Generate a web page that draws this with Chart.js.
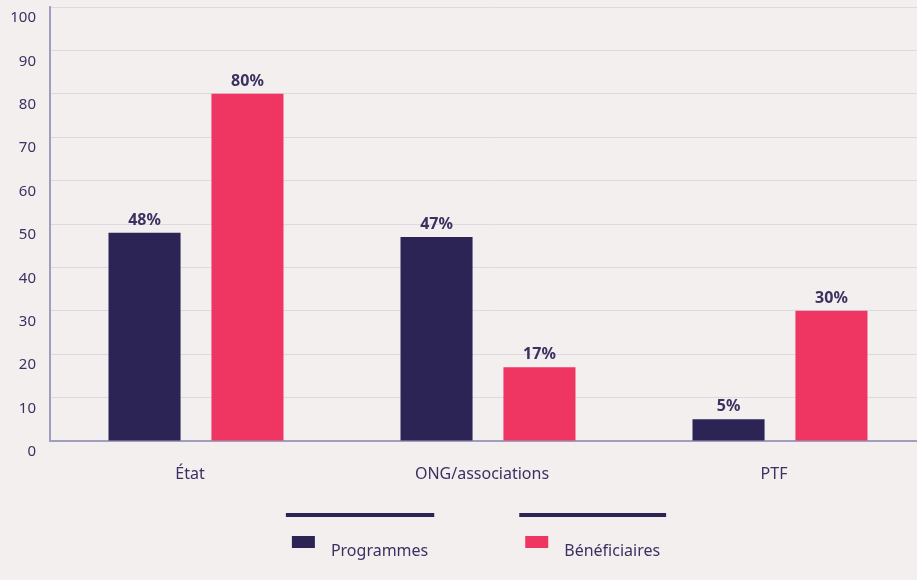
<!DOCTYPE html>
<html lang="fr">
<head>
<meta charset="utf-8">
<script src="https://cdn.jsdelivr.net/npm/chart.js@4"></script>
<style>
  html, body { margin: 0; padding: 0; background: #f3efef; overflow: hidden; }
  #chart { display: block; }
</style>
</head>
<body>
<canvas id="chart" width="926" height="580"></canvas>
<script>
var categories = ['État', 'ONG/associations', 'PTF']
var programmes = [48, 47, 5]
var beneficiaires = [80, 17, 30]
var yTicks = [0, 10, 20, 30, 40, 50, 60, 70, 80, 90, 100]

var textColor = '#3a3161'
var fontFamily = '"Noto Sans", "Open Sans", sans-serif'

// value labels above every bar
var barLabels = {
  id: 'barLabels',
  afterDatasetsDraw: function (chart) {
    var ctx = chart.ctx
    ctx.save()
    ctx.font = 'bold 16px ' + fontFamily
    ctx.fillStyle = textColor
    ctx.textAlign = 'center'
    ctx.textBaseline = 'alphabetic'
    chart.data.datasets.forEach(function (ds, i) {
      chart.getDatasetMeta(i).data.forEach(function (bar, j) {
        ctx.fillText(ds.data[j] + '%', bar.x, bar.y - 8)
      })
    })
    ctx.restore()
  }
}

// legend at the bottom: a rule above each swatch + label
var bottomLegend = {
  id: 'bottomLegend',
  afterDraw: function (chart) {
    var ctx = chart.ctx
    var sets = chart.data.datasets
    ctx.save()
    ctx.font = '16px ' + fontFamily
    var boxW = 23, boxH = 12, textGap = 16, padL = 6, padR = 6, itemGap = 85
    var widths = sets.map(function (ds) {
      return padL + boxW + textGap + ctx.measureText(ds.label).width + padR
    })
    var total = widths.reduce(function (a, b) { return a + b }, 0) + itemGap * (sets.length - 1)
    var x = 476 - total / 2
    sets.forEach(function (ds, i) {
      ctx.fillStyle = '#2d2456'
      ctx.fillRect(x, 513, widths[i], 4)
      ctx.fillStyle = ds.backgroundColor
      ctx.fillRect(x + padL, 536, boxW, boxH)
      ctx.fillStyle = textColor
      ctx.textAlign = 'left'
      ctx.textBaseline = 'middle'
      ctx.fillText(ds.label, x + padL + boxW + textGap, 551)
      x += widths[i] + itemGap
    })
    ctx.restore()
  }
}

new Chart(document.getElementById('chart'), {
  type: 'bar',
  data: {
    labels: categories,
    datasets: [
      { label: 'Programmes', data: programmes, backgroundColor: '#2d2456' },
      { label: 'Bénéficiaires', data: beneficiaires, backgroundColor: '#ef3561' }
    ]
  },
  options: {
    responsive: false,
    animation: false,
    layout: { padding: { top: 7, right: 0, bottom: 0, left: 0 } },
    categoryPercentage: 0.705,
    barPercentage: 0.7,
    plugins: {
      legend: { display: false },
      tooltip: { enabled: false }
    },
    scales: {
      x: {
        grid: { display: false, drawTicks: false },
        border: { color: '#a19dbc', width: 2 },
        ticks: { color: textColor, font: { family: fontFamily, size: 16 }, padding: 24, labelOffset: -6 },
        afterFit: function (scale) {
          scale.height = 139
          scale.paddingLeft = 0
          scale.paddingRight = 0
        }
      },
      y: {
        min: 0,
        max: 100,
        afterBuildTicks: function (scale) {
          scale.ticks = yTicks.map(function (v) { return { value: v } })
        },
        grid: { color: '#ddd8e2', lineWidth: 1, drawTicks: false },
        border: { color: '#a19dbc', width: 2 },
        ticks: { color: textColor, font: { family: fontFamily, size: 15 }, padding: 14, labelOffset: 11 },
        afterFit: function (scale) {
          scale.width = 50
          scale.paddingTop = 0
          scale.paddingBottom = 0
        }
      }
    }
  },
  plugins: [barLabels, bottomLegend]
})
</script>
</body>
</html>
